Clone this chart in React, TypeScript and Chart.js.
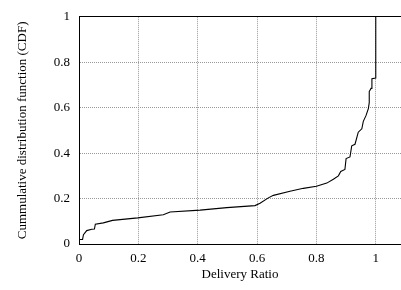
import React, { useEffect, useRef } from "react";
import { Chart, registerables } from "chart.js";

Chart.register(...registerables);

const deliveryRatio = [
  0, 0, 0.012, 0.015, 0.026, 0.043, 0.052, 0.055, 0.082, 0.113, 0.198, 0.284, 0.307,
  0.408, 0.498, 0.593, 0.610, 0.638, 0.655, 0.711, 0.756, 0.800, 0.835, 0.857, 0.874,
  0.882, 0.896, 0.900, 0.913, 0.919, 0.930, 0.941, 0.953, 0.958, 0.967, 0.975, 0.978,
  0.978, 0.984, 0.987, 1.0, 1.0,
];
const cdfValues = [
  0, 0.02, 0.02, 0.041, 0.059, 0.065, 0.066, 0.087, 0.093, 0.104, 0.115, 0.129, 0.141,
  0.149, 0.160, 0.169, 0.179, 0.203, 0.214, 0.232, 0.245, 0.254, 0.268, 0.285, 0.300,
  0.319, 0.328, 0.376, 0.383, 0.432, 0.439, 0.492, 0.507, 0.540, 0.565, 0.596, 0.622,
  0.671, 0.685, 0.727, 0.730, 1.0,
];
const tickValues = [0, 0.2, 0.4, 0.6, 0.8, 1];
const xTitle = "Delivery Ratio";
const yTitle = "Cummulative distribution function (CDF)";

const FONT = "'Liberation Serif', 'Times New Roman', serif";
const GRID = "#999999";

export default function App() {
  const ref = useRef<HTMLCanvasElement | null>(null);
  useEffect(() => {
    if (!ref.current) return;
    const data = deliveryRatio.map((x, i) => ({ x, y: cdfValues[i] }));
    const fmt = (v: any) => {
      const n = Number(v);
      return Math.abs(n - Math.round(n)) < 1e-9 ? String(Math.round(n)) : n.toFixed(1);
    };
    const chart = new Chart(ref.current, {
      type: "line",
      data: {
        datasets: [
          {
            data,
            borderColor: "#000",
            borderWidth: 1.1,
            pointRadius: 0,
            tension: 0,
            fill: false,
          },
        ],
      },
      options: {
        animation: false,
        responsive: false,
        maintainAspectRatio: false,
        layout: { padding: { top: 7, right: 0, left: 0, bottom: 0 } },
        plugins: { legend: { display: false }, tooltip: { enabled: false } },
        scales: {
          x: {
            type: "linear",
            min: 0,
            max: 1.085,
            afterBuildTicks: (s: any) => {
              s.ticks = tickValues.map((v) => ({ value: v }));
            },
            afterFit: (s: any) => {
              s.height = 46;
            },
            grid: { color: GRID, drawTicks: false, lineWidth: 1 },
            border: { color: "#000", width: 1, dash: [1, 1] },
            ticks: {
              color: "#000",
              padding: 7,
              maxRotation: 0,
              autoSkip: false,
              font: { family: FONT, size: 13 },
              callback: (v: any) => fmt(v),
            },
            title: {
              display: true,
              text: xTitle,
              color: "#000",
              font: { family: FONT, size: 13 },
              padding: { top: 0, bottom: 8 },
            },
          },
          y: {
            type: "linear",
            min: 0,
            max: 1,
            afterBuildTicks: (s: any) => {
              s.ticks = tickValues.map((v) => ({ value: v }));
            },
            afterFit: (s: any) => {
              s.width = 79;
            },
            grid: {
              color: (ctx: any) => (ctx.tick && ctx.tick.value === 1 ? "#000" : GRID),
              drawTicks: false,
              lineWidth: 1,
            },
            border: {
              color: "#000",
              width: 1,
              dash: (ctx: any) => (ctx.tick && ctx.tick.value === 1 ? [] : [1, 1]),
            },
            ticks: {
              color: "#000",
              padding: 9,
              autoSkip: false,
              font: { family: FONT, size: 13 },
              callback: (v: any) => fmt(v),
            },
            title: {
              display: true,
              text: yTitle,
              color: "#000",
              font: { family: FONT, size: 13 },
              padding: { top: 15, bottom: 0 },
            },
          },
        },
      },
    });
    return () => chart.destroy();
  }, []);
  return (
    <div style={{ position: "absolute", left: 0, top: 0, width: 401, height: 290, background: "#fff" }}>
      <canvas ref={ref} width={401} height={290} style={{ width: 401, height: 290 }} />
    </div>
  );
}
